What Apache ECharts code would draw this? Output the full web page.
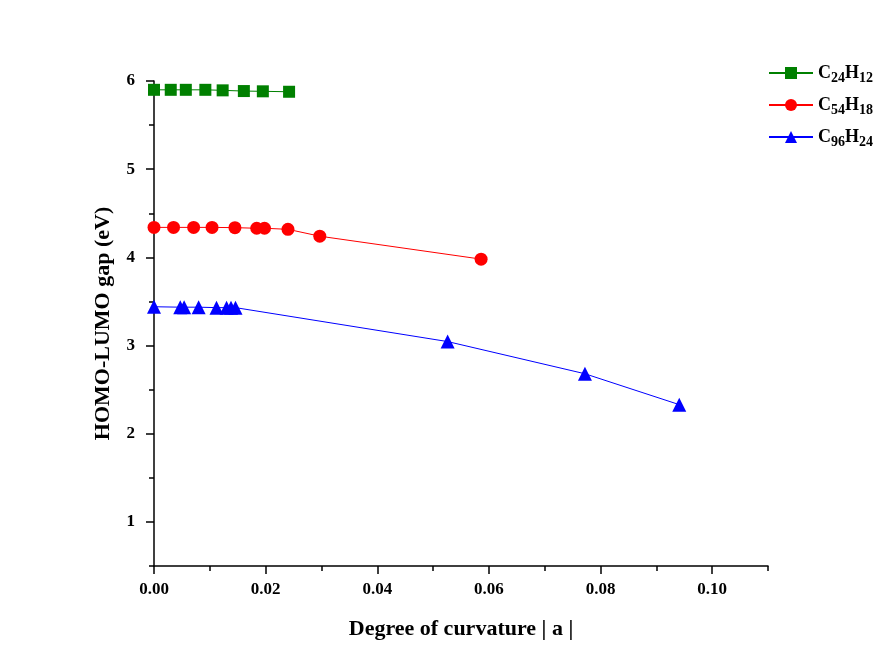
<!DOCTYPE html>
<html>
<head>
<meta charset="utf-8">
<script src="https://cdn.jsdelivr.net/npm/echarts@6/dist/echarts.min.js"></script>
<style>
  html, body { margin: 0; padding: 0; background: #ffffff; }
  #chart { width: 890px; height: 668px; }
</style>
</head>
<body>
<div id="chart"></div>
<script>
// HOMO-LUMO gap of curved graphene flakes versus curvature degree |a|
const seriesNames = ['C24H12', 'C54H18', 'C96H24'];

const c24h12X = [0.0000, 0.0030, 0.0057, 0.0092, 0.0123, 0.0161, 0.0195, 0.0242];
const c24h12Y = [5.90, 5.90, 5.90, 5.90, 5.894, 5.886, 5.883, 5.878];

const c54h18X = [0.0000, 0.0035, 0.0071, 0.0104, 0.0145, 0.0184, 0.0198, 0.0240, 0.0297, 0.0586];
const c54h18Y = [4.34, 4.34, 4.34, 4.34, 4.337, 4.33, 4.33, 4.318, 4.24, 3.98];

const c96h24X = [0.0000, 0.0047, 0.0054, 0.0080, 0.0112, 0.0130, 0.0138, 0.0146, 0.0526, 0.0772, 0.0941];
const c96h24Y = [3.44, 3.435, 3.435, 3.435, 3.43, 3.43, 3.43, 3.43, 3.045, 2.68, 2.33];

const xMajorTicks = [0, 0.02, 0.04, 0.06, 0.08, 0.10];
const xMinorTicks = [0.01, 0.03, 0.05, 0.07, 0.09, 0.11];
const yMajorTicks = [1, 2, 3, 4, 5, 6];
const yMinorTicks = [0.5, 1.5, 2.5, 3.5, 4.5, 5.5];

const serif = '"Liberation Serif", "Times New Roman", serif';

function pairs(xs, ys) {
  return xs.map((x, i) => [x, ys[i]]);
}

// "C24H12" -> rich text with numeric subscripts
function formula(name) {
  return name.replace(/([A-Z][a-z]?)(\d+)/g, '{n|$1}{s|$2}');
}

const chart = echarts.init(document.getElementById('chart'));

const axisBase = {
  axisLine: { show: true, lineStyle: { color: '#000', width: 1.5 } },
  splitLine: { show: false }
};

const nameStyle = { fontFamily: serif, fontWeight: 'bold', fontSize: 22, color: '#000' };
const labelStyle = { fontFamily: serif, fontWeight: 'bold', fontSize: 17, color: '#000' };

chart.setOption({
  backgroundColor: '#ffffff',
  animation: false,
  grid: { left: 154, right: 122, top: 81, bottom: 102 },
  legend: {
    orient: 'vertical',
    left: 768,
    top: 64,
    padding: 0,
    itemWidth: 44,
    itemHeight: 15,
    itemGap: 11,
    data: seriesNames,
    formatter: formula,
    textStyle: {
      rich: {
        n: { fontFamily: serif, fontWeight: 'bold', fontSize: 18, color: '#000' },
        s: { fontFamily: serif, fontWeight: 'bold', fontSize: 14, color: '#000', padding: [10, 0, 0, 0] }
      }
    }
  },
  xAxis: [
    Object.assign({}, axisBase, {
      type: 'value',
      min: 0,
      max: 0.11,
      position: 'bottom',
      name: 'Degree of curvature | a |',
      nameLocation: 'middle',
      nameGap: 52,
      nameTextStyle: nameStyle,
      axisTick: { show: true, inside: false, length: 8, customValues: xMajorTicks, lineStyle: { color: '#000', width: 1.5 } },
      axisLabel: Object.assign({ customValues: xMajorTicks, margin: 15, formatter: v => v.toFixed(2) }, labelStyle)
    }),
    {
      type: 'value',
      min: 0,
      max: 0.11,
      position: 'bottom',
      axisLine: { show: false },
      splitLine: { show: false },
      axisLabel: { show: false },
      axisTick: { show: true, length: 5, customValues: xMinorTicks, lineStyle: { color: '#000', width: 1.5 } }
    }
  ],
  yAxis: [
    Object.assign({}, axisBase, {
      type: 'value',
      min: 0.5,
      max: 6,
      position: 'left',
      name: 'HOMO-LUMO gap (eV)',
      nameLocation: 'middle',
      nameGap: 40,
      nameTextStyle: Object.assign({ padding: [0, 0, 0, 0] }, nameStyle),
      axisTick: { show: true, length: 8, customValues: yMajorTicks, lineStyle: { color: '#000', width: 1.5 } },
      axisLabel: Object.assign({ customValues: yMajorTicks, margin: 19 }, labelStyle)
    }),
    {
      type: 'value',
      min: 0.5,
      max: 6,
      position: 'left',
      axisLine: { show: false },
      splitLine: { show: false },
      axisLabel: { show: false },
      axisTick: { show: true, length: 5, customValues: yMinorTicks, lineStyle: { color: '#000', width: 1.5 } }
    }
  ],
  series: [
    {
      name: seriesNames[0], type: 'line', xAxisIndex: 0, yAxisIndex: 0,
      data: pairs(c24h12X, c24h12Y),
      symbol: 'rect', symbolSize: 12,
      itemStyle: { color: '#008000' },
      lineStyle: { color: '#008000', width: 1 }
    },
    {
      name: seriesNames[1], type: 'line', xAxisIndex: 0, yAxisIndex: 0,
      data: pairs(c54h18X, c54h18Y),
      symbol: 'circle', symbolSize: 13,
      itemStyle: { color: '#ff0000' },
      lineStyle: { color: '#ff0000', width: 1 }
    },
    {
      name: seriesNames[2], type: 'line', xAxisIndex: 0, yAxisIndex: 0,
      data: pairs(c96h24X, c96h24Y),
      symbol: 'triangle', symbolSize: 14,
      itemStyle: { color: '#0000ff' },
      lineStyle: { color: '#0000ff', width: 1 }
    }
  ]
});
</script>
</body>
</html>
